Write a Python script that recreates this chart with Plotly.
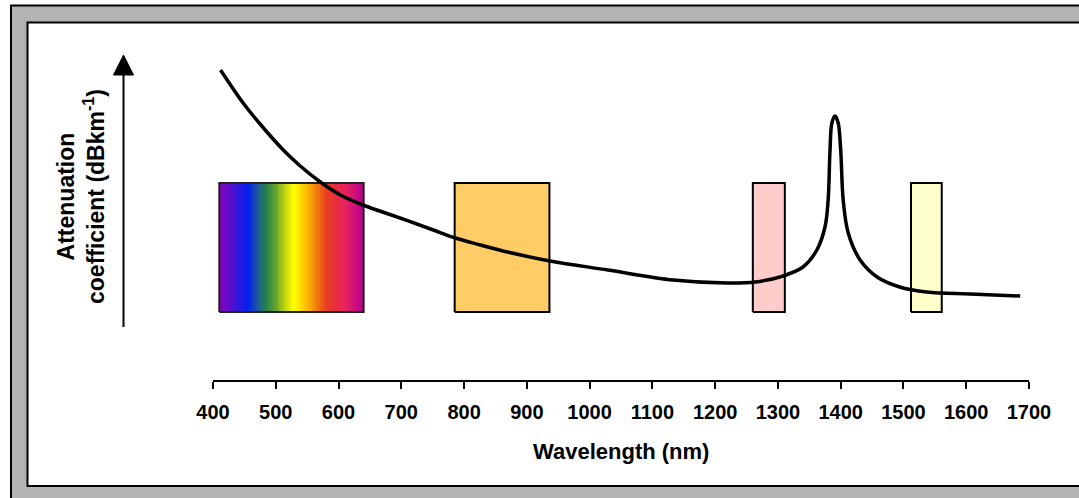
import numpy as np
import plotly.graph_objects as go

# ---------------- data ----------------
wavelength_nm = [412, 448, 475, 512, 539, 571, 603, 639, 698, 751, 786, 826, 869, 937,
                 1029, 1133, 1219, 1264, 1303, 1340, 1362, 1375, 1380, 1383, 1386, 1391, 1396,
                 1400, 1404, 1412, 1431, 1458, 1494, 1537, 1606, 1686]
attenuation = [3.10, 2.77, 2.56, 2.30, 2.14, 1.98, 1.85, 1.75, 1.62, 1.50, 1.42, 1.35, 1.28, 1.19,
               1.10, 1.00, 0.97, 0.98, 1.03, 1.13, 1.30, 1.53, 1.80, 2.30, 2.57, 2.64, 2.57,
               2.30, 1.80, 1.47, 1.20, 1.03, 0.93, 0.88, 0.86, 0.84]

visible_band = [410, 640]
window_names = ["850 nm", "1310 nm", "1550 nm"]
window_starts = [785, 1260, 1512]
window_ends = [936, 1311, 1561]
window_colors = ["#FFCC66", "#FFCCCC", "#FFFFCC"]
band_low, band_high = 0.68, 1.97

tick_values = list(range(400, 1701, 100))
tick_labels = [str(v) for v in tick_values]

rainbow_stops = [
    [0.00, "#8A00C0"], [0.09, "#5010D0"], [0.20, "#0020F0"], [0.27, "#205C9C"],
    [0.32, "#208050"], [0.39, "#60A030"], [0.46, "#C8D810"], [0.52, "#FFFF00"],
    [0.58, "#FFD000"], [0.63, "#F8A800"], [0.69, "#F07010"], [0.74, "#E84020"],
    [0.80, "#E83038"], [0.88, "#E82060"], [1.00, "#B80090"],
]

# ---------------- layout geometry ----------------
W, H = 1079, 498
L, R, T, B = 213, 50, 40, 118
PW, PH = W - L - R, H - T - B


def px(x):
    return (x - L) / PW


def py(y):
    return (H - B - y) / PH


fig = go.Figure()

# rainbow (visible spectrum) block
edges = np.linspace(visible_band[0], visible_band[1], 121)
centers = (edges[:-1] + edges[1:]) / 2
fig.add_trace(go.Heatmap(
    x=edges, y=[band_low, band_high], z=[centers],
    colorscale=rainbow_stops, showscale=False, hoverinfo="skip",
    zmin=visible_band[0], zmax=visible_band[1],
))
fig.add_trace(go.Scatter(
    x=[visible_band[0], visible_band[1], visible_band[1], visible_band[0], visible_band[0]],
    y=[band_low, band_low, band_high, band_high, band_low],
    mode="lines", line=dict(color="#222222", width=2), hoverinfo="skip", showlegend=False,
))

# transmission windows
for name, x0, x1, c in zip(window_names, window_starts, window_ends, window_colors):
    fig.add_trace(go.Scatter(
        x=[x0, x1, x1, x0, x0], y=[band_low, band_low, band_high, band_high, band_low],
        mode="lines", fill="toself", fillcolor=c, line=dict(color="black", width=2),
        name=name, hoverinfo="skip", showlegend=False,
    ))

# attenuation curve
fig.add_trace(go.Scatter(
    x=wavelength_nm, y=attenuation, mode="lines",
    line=dict(color="black", width=3.5, shape="spline", smoothing=1.0),
    showlegend=False,
))

shapes = [
    # outer gray frame
    dict(type="rect", xref="paper", yref="paper", layer="below",
         x0=px(11), x1=px(1120), y0=py(5.5), y1=py(530),
         fillcolor="#B3B3B3", line=dict(color="black", width=2)),
    # inner white panel
    dict(type="rect", xref="paper", yref="paper", layer="below",
         x0=px(27.5), x1=px(1120), y0=py(22.5), y1=py(486),
         fillcolor="white", line=dict(color="black", width=2)),
    # y arrow line
    dict(type="line", xref="paper", yref="paper",
         x0=px(123.5), x1=px(123.5), y0=py(327), y1=py(72),
         line=dict(color="black", width=2)),
    # arrow head
    dict(type="path", xref="paper", yref="paper",
         path=f"M {px(113.5)} {py(75)} L {px(133.5)} {py(75)} L {px(123.5)} {py(55)} Z",
         fillcolor="black", line=dict(color="black", width=1)),
]

annotations = [
    dict(text="Attenuation<br>coefficient (dBkm<sup>-1</sup>)", xref="paper", yref="paper",
         x=px(81), y=py(197), xanchor="center", yanchor="middle", textangle=-90,
         showarrow=False, align="center",
         font=dict(family="Arial", size=23, color="black", weight="bold")),
    dict(text="Wavelength (nm)", xref="paper", yref="paper",
         x=px(621), y=py(452), xanchor="center", yanchor="middle", showarrow=False,
         font=dict(family="Arial", size=22, color="black", weight="bold")),
]

fig.update_layout(
    width=W, height=H,
    margin=dict(l=L, r=R, t=T, b=B, pad=0),
    paper_bgcolor="white", plot_bgcolor="rgba(0,0,0,0)",
    shapes=shapes, annotations=annotations, showlegend=False,
    xaxis=dict(range=[400, 1700], tickvals=tick_values, ticktext=tick_labels,
               showline=True, linecolor="black", linewidth=2,
               ticks="outside", ticklen=7, tickwidth=2, tickcolor="black",
               showgrid=False, zeroline=False, ticklabelstandoff=6,
               tickfont=dict(family="Arial", size=20, color="black", weight="bold")),
    yaxis=dict(range=[0, 3.4], visible=False, showgrid=False, zeroline=False),
)

fig.write_html("out.html", config={"displayModeBar": False},
               post_script="document.body.style.margin='0';")
